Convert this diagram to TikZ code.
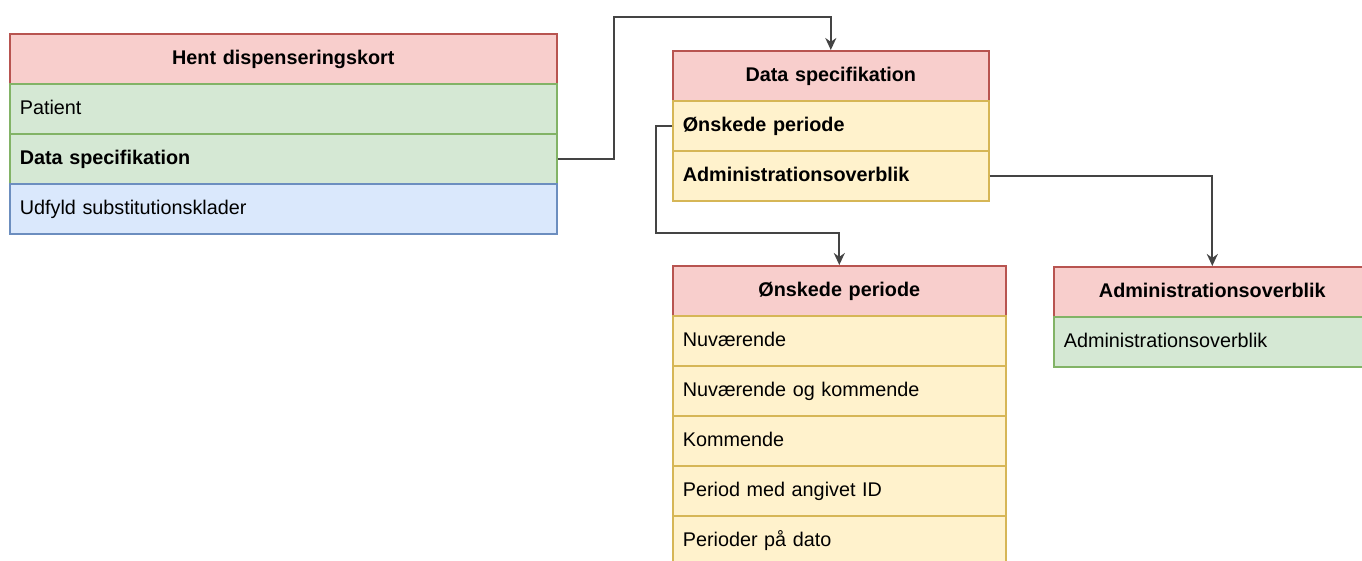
\documentclass[tikz,border=0pt]{standalone}
\usepackage{fontspec}
\setmainfont{Liberation Sans}
\usetikzlibrary{arrows.meta}
\definecolor{hdrF}{HTML}{F8CECC}\definecolor{hdrD}{HTML}{B85450}
\definecolor{grnF}{HTML}{D5E8D4}\definecolor{grnD}{HTML}{82B366}
\definecolor{bluF}{HTML}{DAE8FC}\definecolor{bluD}{HTML}{6C8EBF}
\definecolor{yelF}{HTML}{FFF2CC}\definecolor{yelD}{HTML}{D6B656}
\definecolor{lineC}{HTML}{444444}
\tikzset{
  cell/.style={draw, line width=1.6pt, anchor=north west, minimum height=50pt,
    inner xsep=10pt, inner ysep=0pt, text height=14pt, text depth=3pt,
    font=\fontsize{19.8}{23}\selectfont, align=left},
  hdr/.style={cell, fill=hdrF, draw=hdrD, align=center, font=\fontsize{19.8}{23}\selectfont\bfseries},
  grn/.style={cell, fill=grnF, draw=grnD},
  blu/.style={cell, fill=bluF, draw=bluD},
  yel/.style={cell, fill=yelF, draw=yelD},
  bld/.style={font=\fontsize{19.8}{23}\selectfont\bfseries},
  conn/.style={draw=lineC, line width=2pt, -{Stealth[length=12pt,width=11pt]}},
}
\begin{document}
\begin{tikzpicture}[x=1pt,y=-1pt]
\useasboundingbox (0,0) rectangle (1362,561);
\clip (0,0) rectangle (1362,561);
% box 1
\node[hdr, text width=527pt] (h1) at (9,33) {Hent dispenseringskort};
\node[grn, text width=527pt] (a1) at (9,83) {Patient};
\node[grn, bld, text width=527pt] (a2) at (9,133) {Data specifikation};
\node[blu, text width=527pt] (a3) at (9,183) {Udfyld substitutionsklader};
% box 2
\node[hdr, text width=296pt] (h2) at (672,50) {Data specifikation};
\node[yel, bld, text width=296pt] (b1) at (672,100) {Ønskede periode};
\node[yel, bld, text width=296pt] (b2) at (672,150) {Administrationsoverblik};
% box 3
\node[hdr, text width=313pt] (h3) at (672,265) {Ønskede periode};
\node[yel, text width=313pt] (c1) at (672,315) {Nuværende};
\node[yel, text width=313pt] (c2) at (672,365) {Nuværende og kommende};
\node[yel, text width=313pt] (c3) at (672,415) {Kommende};
\node[yel, text width=313pt] (c4) at (672,465) {Period med angivet ID};
\node[yel, text width=313pt] (c5) at (672,515) {Perioder på dato};
% box 4
\node[hdr, text width=297pt] (h4) at (1053,266) {Administrationsoverblik};
\node[grn, text width=297pt] (d1) at (1053,316) {Administrationsoverblik};
% connectors
\coordinate (k1) at (614,17);
\coordinate (k2) at (656,233);
\draw[conn] (a2.east) -| (k1) -| (h2.north);
\draw[conn] (b1.west) -| (k2) -| (h3.north);
\draw[conn] (b2.east) -| (h4.north);
\end{tikzpicture}
\end{document}
